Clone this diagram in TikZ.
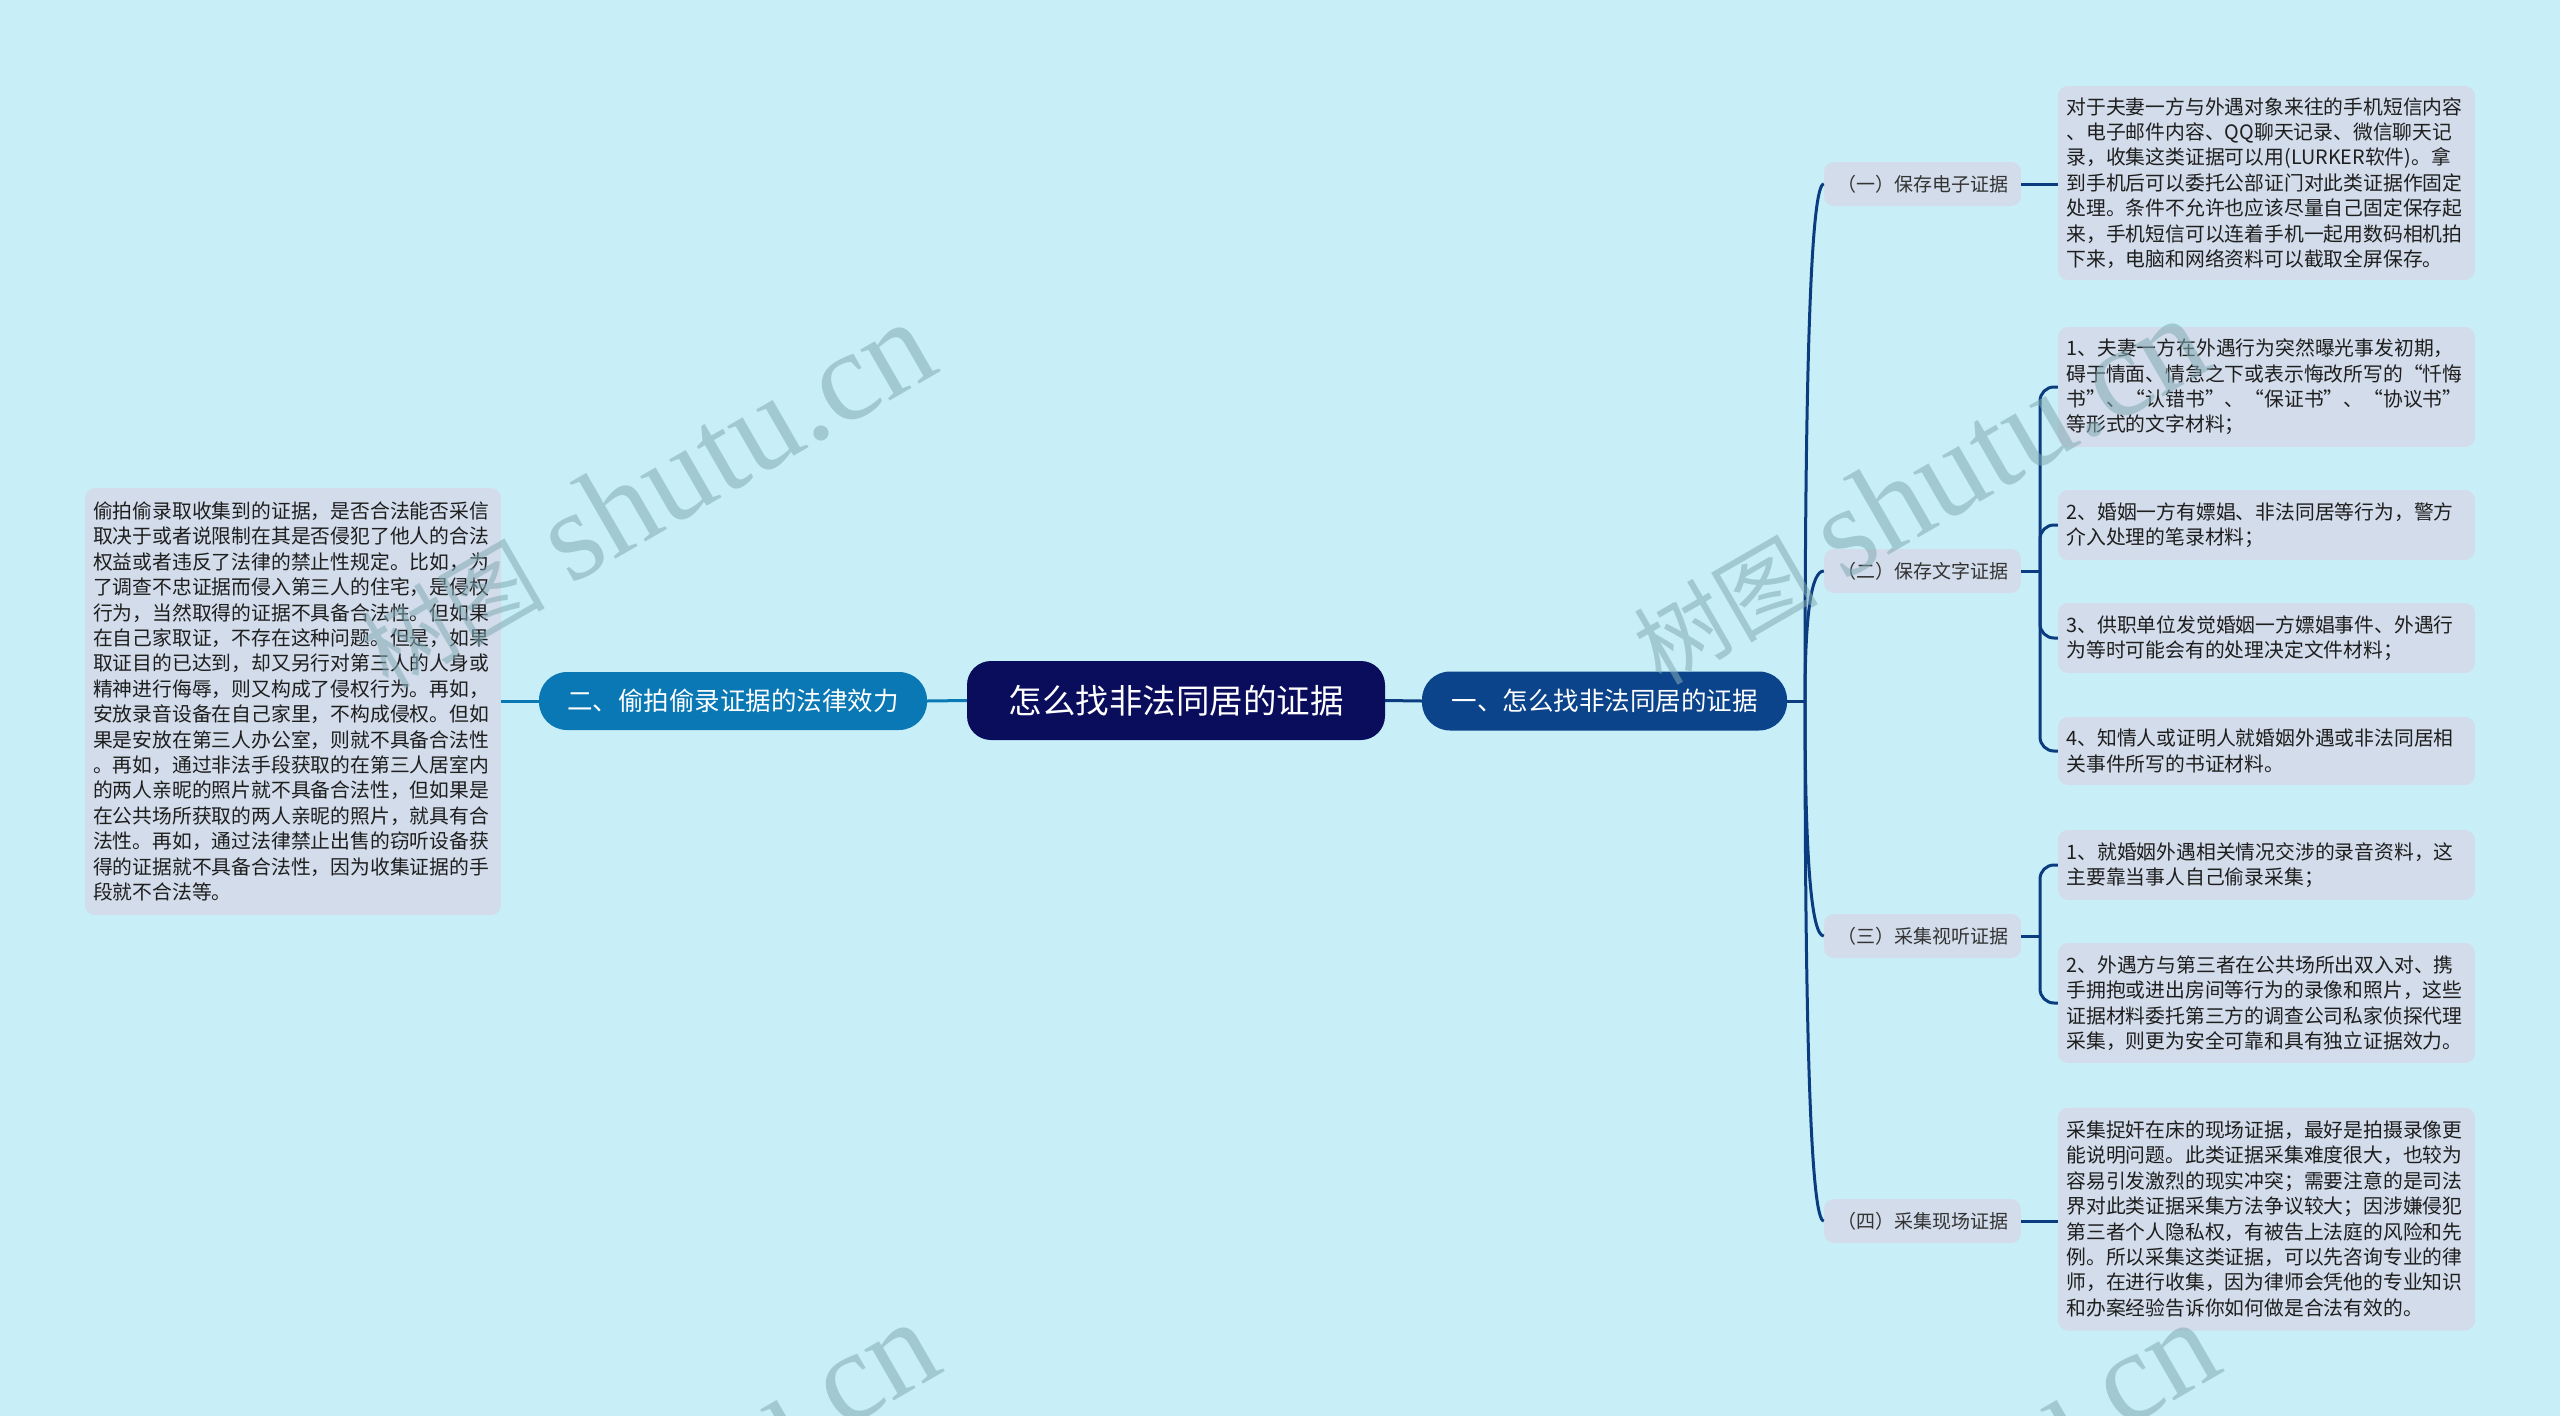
\documentclass[tikz,border=0pt]{standalone}
\usepackage{fontspec}
\setmainfont{Noto Sans CJK SC}
\newfontfamily\wmserif{Liberation Serif}
\usetikzlibrary{calc}
\definecolor{bgc}{RGB}{200,239,248}
\definecolor{rootc}{RGB}{10,12,92}
\definecolor{rbc}{RGB}{12,68,140}
\definecolor{lbc}{RGB}{10,120,180}
\definecolor{boxc}{RGB}{210,220,234}
\definecolor{rline}{RGB}{12,60,128}
\definecolor{wmc}{RGB}{130,170,180}
\definecolor{subtext}{RGB}{51,51,51}
\definecolor{leaftext}{RGB}{30,30,30}
\newcommand{\wmtext}{{\fontsize{92}{92}\selectfont 树图}\hspace{26pt}{\wmserif shutu.cn}}
\tikzset{
  rootnode/.style={fill=rootc, text=white, rounded corners=24pt, minimum width=418pt, minimum height=79pt, inner sep=0pt, font=\fontsize{33.5}{40}\selectfont},
  mainr/.style={fill=rbc, text=white, rounded corners=28pt, minimum width=365pt, minimum height=59pt, inner sep=0pt, font=\fontsize{25.5}{30}\selectfont},
  mainl/.style={fill=lbc, text=white, rounded corners=28pt, minimum width=388pt, minimum height=58pt, inner sep=0pt, font=\fontsize{25.5}{30}\selectfont},
  subnode/.style={fill=boxc, text=subtext, rounded corners=10pt, minimum width=197pt, minimum height=44pt, inner sep=0pt, font=\fontsize{19}{23}\selectfont},
  leaf/.style={fill=boxc, text=leaftext, rounded corners=10pt, text width=400pt, inner xsep=8.5pt, inner ysep=0pt, align=left, font=\fontsize{19.8}{25.4}\selectfont},
  rlink/.style={draw=rline, line width=3pt},
  llink/.style={draw=lbc, line width=3pt},
  wm/.style={text=wmc, opacity=0.55, text opacity=0.55, rotate=30, anchor=base east, inner sep=0pt, font=\fontsize{128}{128}\selectfont}
}
\begin{document}
\begin{tikzpicture}[x=1pt,y=-1pt]
\fill[bgc] (0,0) rectangle (2560,1416);
\useasboundingbox (0,0) rectangle (2560,1416);

% root and main branches
\node[rootnode] (root) at (1176,700.5) {怎么找非法同居的证据};
\node[mainr] (r1) at (1604.5,701) {一、怎么找非法同居的证据};
\node[mainl] (l1) at (733,701) {二、偷拍偷录证据的法律效力};

% left leaf
\node[leaf, minimum height=427pt, text width=400pt, inner xsep=8pt] (lb) at (293,701.5) {偷拍偷录取收集到的证据，是否合法能否采信\\
取决于或者说限制在其是否侵犯了他人的合法\\
权益或者违反了法律的禁止性规定。比如，为\\
了调查不忠证据而侵入第三人的住宅，是侵权\\
行为，当然取得的证据不具备合法性。但如果\\
在自己家取证，不存在这种问题。但是，如果\\
取证目的已达到，却又另行对第三人的人身或\\
精神进行侮辱，则又构成了侵权行为。再如，\\
安放录音设备在自己家里，不构成侵权。但如\\
果是安放在第三人办公室，则就不具备合法性\\
。再如，通过非法手段获取的在第三人居室内\\
的两人亲昵的照片就不具备合法性，但如果是\\
在公共场所获取的两人亲昵的照片，就具有合\\
法性。再如，通过法律禁止出售的窃听设备获\\
得的证据就不具备合法性，因为收集证据的手\\
段就不合法等。};

% sub nodes
\node[subnode] (s1) at (1922.5,184) {（一）保存电子证据};
\node[subnode] (s2) at (1922.5,571) {（二）保存文字证据};
\node[subnode] (s3) at (1922.5,936) {（三）采集视听证据};
\node[subnode] (s4) at (1922.5,1221) {（四）采集现场证据};

% right leaves
\node[leaf, minimum height=194pt] (b1) at (2266.5,183) {对于夫妻一方与外遇对象来往的手机短信内容\\
、电子邮件内容、QQ聊天记录、微信聊天记\\
录，收集这类证据可以用(LURKER软件)。拿\\
到手机后可以委托公部证门对此类证据作固定\\
处理。条件不允许也应该尽量自己固定保存起\\
来，手机短信可以连着手机一起用数码相机拍\\
下来，电脑和网络资料可以截取全屏保存。};
\node[leaf, minimum height=120pt] (b2a) at (2266.5,387) {1、夫妻一方在外遇行为突然曝光事发初期，\\
碍于情面、情急之下或表示悔改所写的“忏悔\\
\leavevmode\hbox to 390pt{书”、\hfill“认错书”、\hfill“保证书”、\hfill“协议书”}\\
等形式的文字材料；};
\node[leaf, minimum height=70pt] (b2b) at (2266.5,525) {2、婚姻一方有嫖娼、非法同居等行为，警方\\
介入处理的笔录材料；};
\node[leaf, minimum height=70pt] (b2c) at (2266.5,638) {3、供职单位发觉婚姻一方嫖娼事件、外遇行\\
为等时可能会有的处理决定文件材料；};
\node[leaf, minimum height=68pt] (b2d) at (2266.5,751) {4、知情人或证明人就婚姻外遇或非法同居相\\
关事件所写的书证材料。};
\node[leaf, minimum height=70pt] (b3a) at (2266.5,865) {1、就婚姻外遇相关情况交涉的录音资料，这\\
主要靠当事人自己偷录采集；};
\node[leaf, minimum height=120pt] (b3b) at (2266.5,1003) {2、外遇方与第三者在公共场所出双入对、携\\
手拥抱或进出房间等行为的录像和照片，这些\\
证据材料委托第三方的调查公司私家侦探代理\\
采集，则更为安全可靠和具有独立证据效力。};
\node[leaf, minimum height=223pt] (b4) at (2266.5,1219) {采集捉奸在床的现场证据，最好是拍摄录像更\\
能说明问题。此类证据采集难度很大，也较为\\
容易引发激烈的现实冲突；需要注意的是司法\\
界对此类证据采集方法争议较大；因涉嫌侵犯\\
第三者个人隐私权，有被告上法庭的风险和先\\
例。所以采集这类证据，可以先咨询专业的律\\
师，在进行收集，因为律师会凭他的专业知识\\
和办案经验告诉你如何做是合法有效的。};

% connectors
\coordinate (J) at (1805,701);
\coordinate (J2) at (2040,571);
\coordinate (J3) at (2040,936);
\draw[llink] (root.west) -- (l1.east);
\draw[llink] (l1.west) -- (lb.east |- l1.west);
\draw[rlink] (root.east) -- (r1.west);
\draw[rlink] (r1.east) -- (J);
\foreach \s in {s1,s2,s3,s4}{
  \draw[rlink] (J) .. controls ($(J)!0.667!(J |- \s.west)$) and ($(\s.west)!0.667!(J |- \s.west)$) .. (\s.west);
}
\draw[rlink] (s1.east) -- (s1.east -| b1.west);
\draw[rlink] (s4.east) -- (s4.east -| b4.west);
\draw[rlink] (s2.east) -- (J2);
\draw[rlink] (s3.east) -- (J3);
\foreach \b in {b2a,b2b,b2c,b2d}{
  \draw[rlink, rounded corners=14pt] (J2) |- (\b.west);
}
\foreach \b in {b3a,b3b}{
  \draw[rlink, rounded corners=14pt] (J3) |- (\b.west);
}

% watermarks
\node[wm] (w1) at (943,370) {\wmtext};
\node[wm] (w2) at (2216,366) {\wmtext};
\node[wm] (w3) at (947,1370) {\wmtext};
\node[wm] (w4) at (2227,1370) {\wmtext};
\end{tikzpicture}
\end{document}
